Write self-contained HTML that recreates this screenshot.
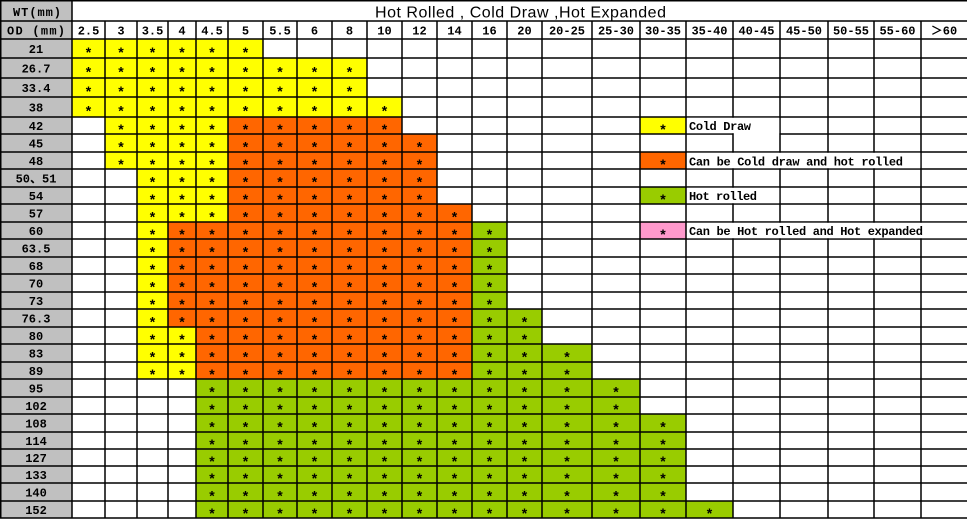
<!DOCTYPE html>
<html><head><meta charset="utf-8"><style>
html,body{margin:0;padding:0;background:#fff;}
svg{display:block;}
.lab{font-family:"Liberation Mono","Noto Sans CJK SC",monospace;font-weight:bold;font-size:12px;fill:#000;}
.ast{font-family:"Liberation Sans",sans-serif;font-weight:bold;font-size:14px;fill:#000;}
.leg{font-family:"Liberation Mono",monospace;font-weight:bold;font-size:12px;fill:#000;}
</style></head><body>
<svg width="967" height="521" viewBox="0 0 967 521" xmlns="http://www.w3.org/2000/svg">
<rect x="0" y="0" width="967" height="521" fill="#fff"/>
<rect x="0" y="0" width="72" height="518" fill="#c0c0c0"/>
<g fill="#ffff00">
<rect x="72" y="39" width="191" height="78"/>
<rect x="263" y="58" width="104" height="59"/>
<rect x="367" y="97" width="35" height="20"/>
<rect x="105" y="117" width="32" height="52"/>
<rect x="137" y="117" width="91" height="105"/>
<rect x="137" y="222" width="31" height="157"/>
<rect x="168" y="327" width="28" height="52"/>
<rect x="640" y="117" width="46" height="17"/>
</g>
<g fill="#ff6600">
<rect x="228" y="117" width="174" height="105"/>
<rect x="402" y="134" width="35" height="88"/>
<rect x="437" y="204" width="35" height="18"/>
<rect x="168" y="222" width="304" height="105"/>
<rect x="196" y="327" width="276" height="52"/>
<rect x="640" y="152" width="46" height="17"/>
</g>
<g fill="#99cc00">
<rect x="472" y="222" width="35" height="157"/>
<rect x="507" y="309" width="35" height="70"/>
<rect x="542" y="344" width="50" height="35"/>
<rect x="196" y="379" width="444" height="139"/>
<rect x="640" y="414" width="46" height="104"/>
<rect x="686" y="501" width="47" height="17"/>
<rect x="640" y="187" width="46" height="17"/>
</g>
<rect x="640" y="222" width="46" height="17" fill="#ff99cc"/>

<path stroke="#000" stroke-width="1.5" fill="none" d="
M0 0.75H967 M0 21H967 M0 39H967 M0 58H967 M0 78H967 M0 97H967 M0 117H967 M0 134H967 M0 152H967 M0 169H967 M0 187H967 M0 204H967 M0 222H967 M0 239H967 M0 257H967 M0 274H967 M0 292H967 M0 309H967 M0 327H967 M0 344H967 M0 362H967 M0 379H967 M0 397H967 M0 414H967 M0 432H967 M0 449H967 M0 466H967 M0 483H967 M0 501H967 M0 518H967
M0.75 0V518 M72 0V518
M105 21V518 M137 21V518 M168 21V518 M196 21V518 M228 21V518 M263 21V518 M297 21V518 M332 21V518 M367 21V518 M402 21V518 M437 21V518 M472 21V518 M507 21V518 M542 21V518 M592 21V518 M640 21V518 M686 21V518 M733 21V518 M780 21V518 M828 21V518 M874 21V518 M921 21V518"/>

<g fill="#fff">
<rect x="687" y="117.8" width="92.2" height="15.4"/>
<rect x="733.8" y="132.9" width="45.4" height="2.2"/>
<rect x="687" y="152.8" width="233.2" height="15.4"/>
<rect x="687" y="187.8" width="92.2" height="15.4"/>
<rect x="687" y="222.8" width="280" height="15.4"/>
</g>

<text x="375" y="17.3" font-family="Liberation Sans, sans-serif" font-size="16" textLength="291" lengthAdjust="spacing" fill="#000">Hot Rolled , Cold Draw ,Hot Expanded</text>
<text class="lab" x="13" y="16" textLength="48" lengthAdjust="spacing">WT(mm)</text>
<text class="lab" x="7" y="34.5" textLength="58" lengthAdjust="spacing">OD (mm)</text>

<g class="lab" text-anchor="middle">
<text x="88.5" y="34.5">2.5</text>
<text x="121" y="34.5">3</text>
<text x="152.5" y="34.5">3.5</text>
<text x="182" y="34.5">4</text>
<text x="212" y="34.5">4.5</text>
<text x="245.5" y="34.5">5</text>
<text x="280" y="34.5">5.5</text>
<text x="314.5" y="34.5">6</text>
<text x="349.5" y="34.5">8</text>
<text x="384.5" y="34.5">10</text>
<text x="419.5" y="34.5">12</text>
<text x="454.5" y="34.5">14</text>
<text x="489.5" y="34.5">16</text>
<text x="524.5" y="34.5">20</text>
<text x="567" y="34.5">20-25</text>
<text x="616" y="34.5">25-30</text>
<text x="663" y="34.5">30-35</text>
<text x="709.5" y="34.5">35-40</text>
<text x="756.5" y="34.5">40-45</text>
<text x="804" y="34.5">45-50</text>
<text x="851" y="34.5">50-55</text>
<text x="897.5" y="34.5">55-60</text>
<text x="944" y="34.5">＞60</text>
</g>

<g class="lab" text-anchor="middle">
<text x="36" y="53">21</text>
<text x="36" y="72.5">26.7</text>
<text x="36" y="92">33.4</text>
<text x="36" y="111.5">38</text>
<text x="36" y="130">42</text>
<text x="36" y="147.5">45</text>
<text x="36" y="165">48</text>
<text x="36" y="182.5">50、51</text>
<text x="36" y="200">54</text>
<text x="36" y="217.5">57</text>
<text x="36" y="235">60</text>
<text x="36" y="252.5">63.5</text>
<text x="36" y="270">68</text>
<text x="36" y="287.5">70</text>
<text x="36" y="305">73</text>
<text x="36" y="322.5">76.3</text>
<text x="36" y="340">80</text>
<text x="36" y="357.5">83</text>
<text x="36" y="375">89</text>
<text x="36" y="392.5">95</text>
<text x="36" y="410">102</text>
<text x="36" y="427.5">108</text>
<text x="36" y="445">114</text>
<text x="36" y="462">127</text>
<text x="36" y="479">133</text>
<text x="36" y="496.5">140</text>
<text x="36" y="514">152</text>
</g>

<g class="ast" text-anchor="middle" transform="translate(0,-1)">
<text x="88.5 121 152.5 182 212 245.5" y="57.8">******</text>
<text x="88.5 121 152.5 182 212 245.5 280 314.5 349.5" y="77.3">*********</text>
<text x="88.5 121 152.5 182 212 245.5 280 314.5 349.5" y="96.8">*********</text>
<text x="88.5 121 152.5 182 212 245.5 280 314.5 349.5 384.5" y="116.3">**********</text>
<text x="121 152.5 182 212 245.5 280 314.5 349.5 384.5 663" y="134.8">**********</text>
<text x="121 152.5 182 212 245.5 280 314.5 349.5 384.5 419.5" y="152.3">**********</text>
<text x="121 152.5 182 212 245.5 280 314.5 349.5 384.5 419.5 663" y="169.8">***********</text>
<text x="152.5 182 212 245.5 280 314.5 349.5 384.5 419.5" y="187.3">*********</text>
<text x="152.5 182 212 245.5 280 314.5 349.5 384.5 419.5 663" y="204.8">**********</text>
<text x="152.5 182 212 245.5 280 314.5 349.5 384.5 419.5 454.5" y="222.3">**********</text>
<text x="152.5 182 212 245.5 280 314.5 349.5 384.5 419.5 454.5 489.5 663" y="239.8">************</text>
<text x="152.5 182 212 245.5 280 314.5 349.5 384.5 419.5 454.5 489.5" y="257.3">***********</text>
<text x="152.5 182 212 245.5 280 314.5 349.5 384.5 419.5 454.5 489.5" y="274.8">***********</text>
<text x="152.5 182 212 245.5 280 314.5 349.5 384.5 419.5 454.5 489.5" y="292.3">***********</text>
<text x="152.5 182 212 245.5 280 314.5 349.5 384.5 419.5 454.5 489.5" y="309.8">***********</text>
<text x="152.5 182 212 245.5 280 314.5 349.5 384.5 419.5 454.5 489.5 524.5" y="327.3">************</text>
<text x="152.5 182 212 245.5 280 314.5 349.5 384.5 419.5 454.5 489.5 524.5" y="344.8">************</text>
<text x="152.5 182 212 245.5 280 314.5 349.5 384.5 419.5 454.5 489.5 524.5 567" y="362.3">*************</text>
<text x="152.5 182 212 245.5 280 314.5 349.5 384.5 419.5 454.5 489.5 524.5 567" y="379.8">*************</text>
<text x="212 245.5 280 314.5 349.5 384.5 419.5 454.5 489.5 524.5 567 616" y="397.3">************</text>
<text x="212 245.5 280 314.5 349.5 384.5 419.5 454.5 489.5 524.5 567 616" y="414.8">************</text>
<text x="212 245.5 280 314.5 349.5 384.5 419.5 454.5 489.5 524.5 567 616 663" y="432.3">*************</text>
<text x="212 245.5 280 314.5 349.5 384.5 419.5 454.5 489.5 524.5 567 616 663" y="449.8">*************</text>
<text x="212 245.5 280 314.5 349.5 384.5 419.5 454.5 489.5 524.5 567 616 663" y="466.8">*************</text>
<text x="212 245.5 280 314.5 349.5 384.5 419.5 454.5 489.5 524.5 567 616 663" y="483.8">*************</text>
<text x="212 245.5 280 314.5 349.5 384.5 419.5 454.5 489.5 524.5 567 616 663" y="501.3">*************</text>
<text x="212 245.5 280 314.5 349.5 384.5 419.5 454.5 489.5 524.5 567 616 663 709.5" y="518.8">**************</text>
</g>

<text class="leg" x="689" y="130" textLength="62" lengthAdjust="spacing">Cold Draw</text>
<text class="leg" x="689" y="165.5" textLength="214" lengthAdjust="spacing">Can be Cold draw and hot rolled</text>
<text class="leg" x="689" y="200" textLength="68" lengthAdjust="spacing">Hot rolled</text>
<text class="leg" x="689" y="235" textLength="234" lengthAdjust="spacing">Can be Hot rolled and Hot expanded</text>
</svg>
</body></html>
